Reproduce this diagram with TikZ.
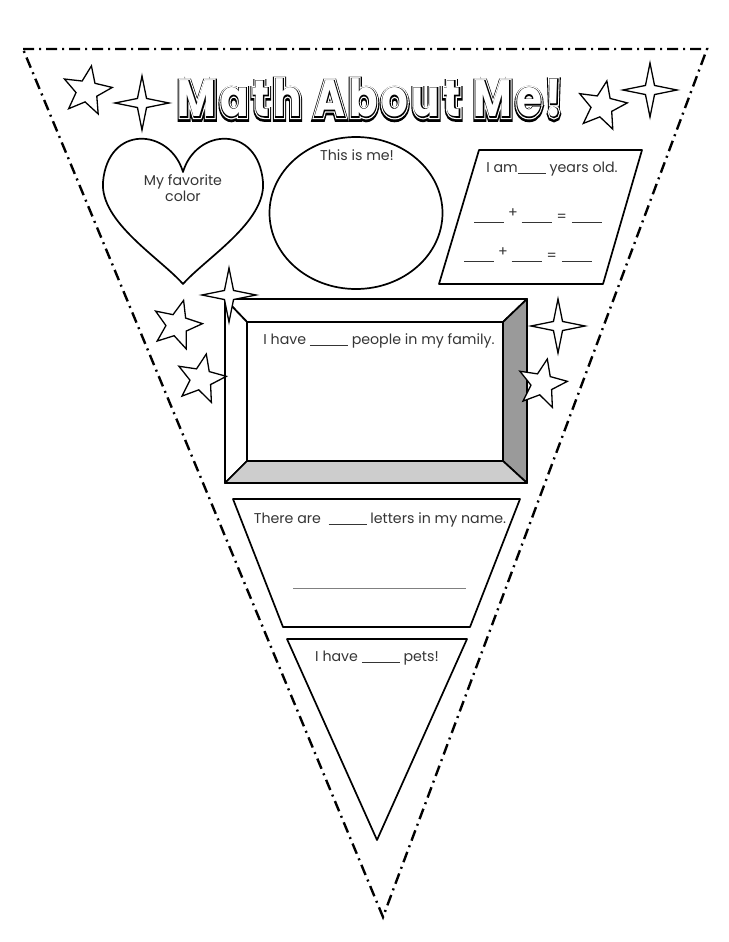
\documentclass[tikz,border=0pt]{standalone}
\usepackage{fontspec}
\setmainfont{Poppins}
\newfontfamily\titleouter[FakeBold=14, LetterSpace=9]{Poppins Bold}
\newfontfamily\titlering[FakeBold=9, LetterSpace=9]{Poppins Bold}
\newfontfamily\titleline[FakeBold=4, LetterSpace=9]{Poppins Bold}
\newfontfamily\titlebody[LetterSpace=9]{Poppins Bold}
\usetikzlibrary{positioning,shapes.geometric}
\definecolor{labelgray}{HTML}{353535}
\definecolor{bevelright}{HTML}{9A9A9A}
\definecolor{bevelbottom}{HTML}{CDCDCD}
\newcommand{\titlewords}{Math About Me!}
\newcommand{\blank}[1]{\rule[-1.5pt]{#1pt}{0.7pt}}
\newcommand{\sumrow}{\blank{30}\hspace{4pt}\raisebox{3.5pt}{+}\hspace{4pt}\blank{30}\hspace{5pt}=\hspace{5pt}\blank{30}}
\tikzset{
	every node/.style = {font=\fontsize{14.2}{16.5}\selectfont, text=labelgray, inner sep=0},
	every text node part/.style={align=center},
	outline/.style = {draw=black, line width=1.7pt, line join=round},
	cutline/.style = {line width=2.4pt, dash pattern=on 11pt off 5pt on 2pt off 5pt},
	fivestar/.style = {star, star points=5, star point ratio=2.3, draw=black, line width=1.3pt, fill=white, minimum size=51pt},
	fourstar/.style = {star, star points=4, star point ratio=4.2, draw=black, line width=1.3pt, fill=white, minimum size=54pt},
	titlelayer/.style = {font=\fontsize{42}{42}\selectfont}
}

\begin{document}
\begin{tikzpicture}[x=1pt, y=-1pt]
	\useasboundingbox (0,0) rectangle (728,942);
	\fill[white] (0,0) rectangle (728,942);

	% pennant cut line
	\coordinate (tl) at (23,49);
	\coordinate (tr) at (707,49);
	\coordinate (tip) at (383,917);
	\draw[cutline] (tl) -- (tr) -- (tip) -- cycle;

	% title
	\node[titlelayer, text=black, yshift=-1.5pt] (titleshadow) at (370,98) {\scalebox{1}[1.22]{\titleouter\titlewords}};
	\node[titlelayer, text=white] (titlering) at (370,98) {\scalebox{1}[1.22]{\titlering\titlewords}};
	\node[titlelayer, text=black] (titleedge) at (370,98) {\scalebox{1}[1.22]{\titleline\titlewords}};
	\node[titlelayer, text=white] (title) at (370,98) {\scalebox{1}[1.22]{\titlebody\titlewords}};

	\node[fivestar, rotate=-10] (starA) at (87,91) {};
	\node[fourstar] (starB) at (142,103) {};
	\node[fivestar, rotate=-11] (starC) at (602,106) {};
	\node[fourstar] (starD) at (650,90) {};

	% heart
	\draw[outline] (183,172) .. controls (170,128) and (108,124) .. (103,182)
		.. controls (100,222) and (160,258) .. (183,284)
		.. controls (206,258) and (266,222) .. (263,182)
		.. controls (258,124) and (196,128) .. (183,172) -- cycle;
	\node (color) at (183,188) {My favorite\\color};

	% face
	\draw[outline] (356,213) ellipse [x radius=86.5, y radius=76];
	\node (me) at (357,155) {This is me!};

	% age
	\coordinate (ageTL) at (479,150);
	\coordinate (ageTR) at (642,150);
	\coordinate (ageBR) at (603,284);
	\coordinate (ageBL) at (439,284);
	\draw[outline] (ageTL) -- (ageTR) -- (ageBR) -- (ageBL) -- cycle;
	\node (age) at (552,169) {I am\blank{28} years old.};
	\node[anchor=base] (sumA) at (538,221) {\sumrow};
	\node[anchor=base] (sumB) at (528,260) {\sumrow};

	% family frame
	\coordinate (oTL) at (225,299);
	\coordinate (oTR) at (527,299);
	\coordinate (oBR) at (527,483);
	\coordinate (oBL) at (225,483);
	\coordinate (iTL) at (247,322);
	\coordinate (iTR) at (503,322);
	\coordinate (iBR) at (503,461);
	\coordinate (iBL) at (247,461);
	\draw[outline, fill=white] (oTL) -- (oTR) -- (iTR) -- (iTL) -- cycle;
	\draw[outline, fill=white] (oTL) -- (iTL) -- (iBL) -- (oBL) -- cycle;
	\draw[outline, fill=bevelright] (oTR) -- (oBR) -- (iBR) -- (iTR) -- cycle;
	\draw[outline, fill=bevelbottom] (oBL) -- (iBL) -- (iBR) -- (oBR) -- cycle;
	\draw[outline, fill=white] (iTL) rectangle (iBR);
	\node (family) at (379,341) {I have \blank{38} people in my family.};

	\node[fourstar] (starE) at (229,295) {};
	\node[fivestar, rotate=-15] (starF) at (177,325) {};
	\node[fivestar, rotate=-12] (starG) at (201,379) {};
	\node[fourstar] (starH) at (558,326) {};
	\node[fivestar, rotate=-12] (starI) at (542,384) {};

	% name
	\coordinate (nameTL) at (233,499);
	\coordinate (nameTR) at (520,499);
	\coordinate (nameBR) at (470,627);
	\coordinate (nameBL) at (283,627);
	\draw[outline] (nameTL) -- (nameTR) -- (nameBR) -- (nameBL) -- cycle;
	\node (letters) at (380,520) {There are \ \blank{38} letters in my name.};
	\coordinate (lineL) at (293,588);
	\coordinate (lineR) at (466,588);
	\draw[gray, line width=0.8pt] (lineL) -- (lineR);

	% pets
	\coordinate (petsL) at (287,639);
	\coordinate (petsR) at (467,639);
	\coordinate (petsB) at (377,840);
	\draw[outline] (petsL) -- (petsR) -- (petsB) -- cycle;
	\node (pets) at (377,658) {I have \blank{38} pets!};
\end{tikzpicture}
\end{document}
